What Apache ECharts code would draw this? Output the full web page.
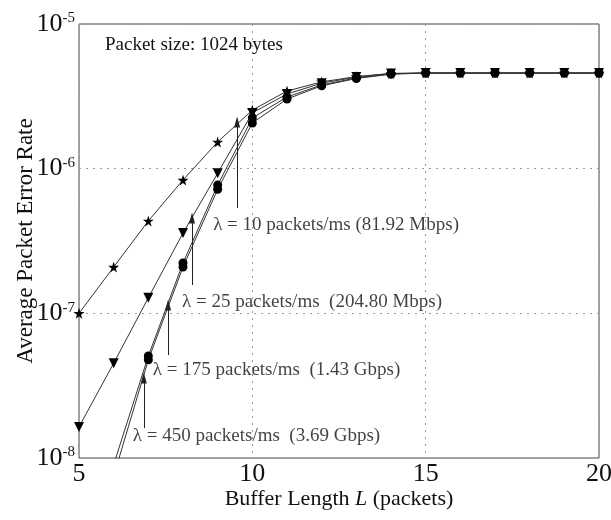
<!DOCTYPE html>
<html>
<head>
<meta charset="utf-8">
<script src="https://cdn.jsdelivr.net/npm/echarts@6/dist/echarts.min.js"></script>
<style>
  html, body { margin: 0; padding: 0; background: #fff; }
  #chart { width: 611px; height: 520px; }
</style>
</head>
<body>
<div id="chart"></div>
<script>
// buffer length L (packets)
var bufferLen = [5, 6, 7, 8, 9, 10, 11, 12, 13, 14, 15, 16, 17, 18, 19, 20]

// average packet error rate per arrival rate
var perLambda10 = [1.0e-7, 2.09e-7, 4.35e-7, 8.35e-7, 1.53e-6, 2.54e-6, 3.44e-6, 3.98e-6, 4.33e-6, 4.55e-6, 4.58e-6, 4.58e-6, 4.58e-6, 4.58e-6, 4.58e-6, 4.58e-6]
var perLambda25 = [1.64e-8, 4.52e-8, 1.28e-7, 3.59e-7, 9.3e-7, 2.43e-6, 3.28e-6, 3.9e-6, 4.3e-6, 4.55e-6, 4.58e-6, 4.58e-6, 4.58e-6, 4.58e-6, 4.58e-6, 4.58e-6]
var perLambda175 = [1.8e-9, 9.0e-9, 5.07e-8, 2.23e-7, 7.7e-7, 2.24e-6, 3.13e-6, 3.79e-6, 4.24e-6, 4.52e-6, 4.58e-6, 4.58e-6, 4.58e-6, 4.58e-6, 4.58e-6, 4.58e-6]
var perLambda450 = [1.4e-9, 7.5e-9, 4.77e-8, 2.09e-7, 7.2e-7, 2.07e-6, 3.03e-6, 3.74e-6, 4.2e-6, 4.5e-6, 4.58e-6, 4.58e-6, 4.58e-6, 4.58e-6, 4.58e-6, 4.58e-6]

// annotation arrows: x, tail y, head y
var arrowX = [9.56, 8.26, 7.57, 6.87]
var arrowFrom = [5.35e-7, 1.57e-7, 5.15e-8, 1.61e-8]
var arrowTo = [2.1e-6, 4.56e-7, 1.14e-7, 3.57e-8]

// annotation texts and where they start
var annoText = [
  'λ = 10 packets/ms (81.92 Mbps)',
  'λ = 25 packets/ms  (204.80 Mbps)',
  'λ = 175 packets/ms  (1.43 Gbps)',
  'λ = 450 packets/ms  (3.69 Gbps)'
]
var annoX = [8.87, 7.97, 7.13, 6.55]
var annoY = [4.08e-7, 1.2e-7, 4.06e-8, 1.42e-8]

var serif = '"Liberation Serif", "DejaVu Serif", serif'
var ink = '#111'
var starPath = 'path://M50,0 L61,35 L98,35 L68,57 L79,91 L50,70 L21,91 L32,57 L2,35 L39,35 Z'

function pairs(ys) {
  return bufferLen.map(function (x, i) { return [x, ys[i]] })
}

function curve(name, ys, symbol, size, rotate) {
  return {
    name: name,
    type: 'line',
    data: pairs(ys),
    symbol: symbol,
    symbolSize: size,
    symbolRotate: rotate || 0,
    showAllSymbol: true,
    clip: true,
    itemStyle: { color: '#000' },
    lineStyle: { color: '#333', width: 1 },
    z: 3
  }
}

var chart = echarts.init(document.getElementById('chart'))

chart.setOption({
  animation: false,
  backgroundColor: '#fff',
  title: {
    text: 'Packet size: 1024 bytes',
    left: 105,
    top: 36,
    padding: 0,
    textStyle: { fontFamily: serif, fontSize: 19, fontWeight: 'normal', color: ink }
  },
  grid: {
    left: 79,
    right: 12,
    top: 24,
    bottom: 62,
    outerBoundsMode: 'none',
    show: true,
    borderColor: '#444',
    borderWidth: 1
  },
  xAxis: {
    type: 'value',
    min: 5,
    max: 20,
    interval: 5,
    name: '{n|Buffer Length }{i|L}{n| (packets)}',
    nameLocation: 'middle',
    nameGap: 30,
    nameMoveOverlap: false,
    nameTextStyle: {
      rich: {
        n: { fontFamily: serif, fontSize: 22, color: ink },
        i: { fontFamily: serif, fontSize: 22, fontStyle: 'italic', color: ink }
      }
    },
    axisLine: { show: false },
    axisTick: { show: false },
    axisLabel: { fontFamily: serif, fontSize: 26, color: '#111', margin: 3 },
    splitLine: { show: true, lineStyle: { color: '#999', type: [2, 5], width: 1 } }
  },
  yAxis: {
    type: 'log',
    logBase: 10,
    min: 1e-8,
    max: 1e-5,
    name: 'Average Packet Error Rate',
    nameLocation: 'middle',
    nameGap: 42,
    nameMoveOverlap: false,
    nameTextStyle: { fontFamily: serif, fontSize: 23, color: ink },
    axisLine: { show: false },
    axisTick: { show: false },
    axisLabel: {
      margin: 4,
      formatter: function (v) {
        return '{b|10}{s|' + Math.round(Math.log10(v)) + '}'
      },
      rich: {
        b: { fontFamily: serif, fontSize: 26, color: '#111', lineHeight: 26 },
        s: { fontFamily: serif, fontSize: 15, color: '#111', verticalAlign: 'top', lineHeight: 26 }
      }
    },
    splitLine: { show: true, lineStyle: { color: '#999', type: [2, 5], width: 1 } }
  },
  series: [
    curve('λ = 10', perLambda10, starPath, 11),
    curve('λ = 25', perLambda25, 'triangle', 10, 180),
    curve('λ = 175', perLambda175, 'circle', 9),
    curve('λ = 450', perLambda450, 'circle', 9),
    {
      name: 'arrows',
      type: 'line',
      data: [],
      markLine: {
        silent: true,
        symbol: ['none', 'triangle'],
        symbolSize: [6, 11],
        label: { show: false },
        lineStyle: { color: '#222', width: 1, type: 'solid' },
        data: arrowX.map(function (x, i) {
          return [{ coord: [x, arrowFrom[i]] }, { coord: [x, arrowTo[i]] }]
        })
      }
    },
    {
      name: 'labels',
      type: 'scatter',
      symbolSize: 0,
      silent: true,
      data: annoX.map(function (x, i) { return { value: [x, annoY[i]], name: annoText[i] } }),
      label: {
        show: true,
        position: 'right',
        distance: 0,
        formatter: '{b}',
        fontFamily: serif,
        fontSize: 19,
        color: ink
      }
    }
  ]
})
</script>
</body>
</html>
